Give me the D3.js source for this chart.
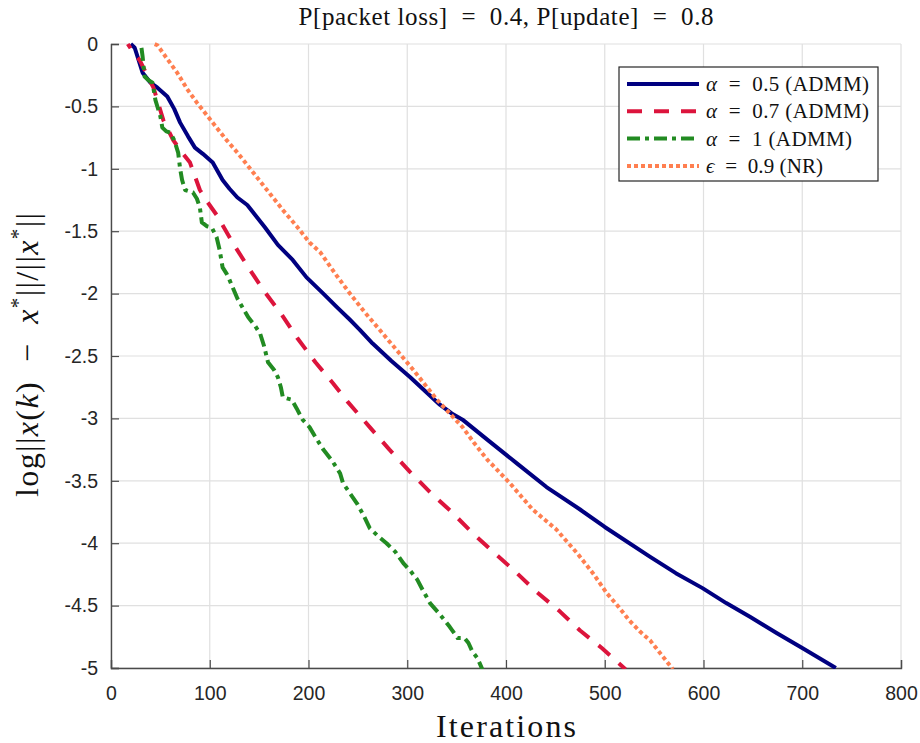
<!DOCTYPE html>
<html><head><meta charset="utf-8">
<script src="https://cdn.jsdelivr.net/npm/d3@7"></script>
<style>
html,body{margin:0;padding:0;background:#fff;}
svg{display:block;}
</style></head>
<body>
<div id="chart"></div>
<script>
// ---- data ----
const title = "P[packet loss] = 0.4, P[update] = 0.8";
const xLabel = "Iterations";
const xTicks = [0,100,200,300,400,500,600,700,800];
const yTicks = [0,-0.5,-1,-1.5,-2,-2.5,-3,-3.5,-4,-4.5,-5];
const yTickLabels = ["0","-0.5","-1","-1.5","-2","-2.5","-3","-3.5","-4","-4.5","-5"];

const seriesSymbols = ["α", "α", "α", "ϵ"];
const seriesNames = [" = 0.5 (ADMM)", " = 0.7 (ADMM)", " = 1 (ADMM)", " = 0.9 (NR)"];

const admm05 = [[20,0],[24,-0.03],[32,-0.23],[40,-0.31],[47,-0.35],[57,-0.42],[64,-0.52],[70,-0.63],[78,-0.74],[85,-0.83],[93,-0.88],[103,-0.95],[113,-1.09],[120,-1.16],[128,-1.23],[138,-1.29],[146,-1.37],[156,-1.47],[169,-1.61],[184,-1.73],[198,-1.87],[215,-2.0],[229,-2.11],[242,-2.21],[252,-2.29],[265,-2.40],[284,-2.54],[303,-2.67],[318,-2.78],[333,-2.89],[345,-2.96],[356,-3.01],[381,-3.17],[411,-3.36],[441,-3.55],[475,-3.73],[500,-3.87],[546,-4.11],[572,-4.24],[599,-4.36],[623,-4.48],[647,-4.59],[674,-4.72],[700,-4.84],[734,-5.0]];

const admm07 = [[17,0],[22,-0.06],[29,-0.13],[36,-0.24],[43,-0.35],[53,-0.61],[63,-0.77],[71,-0.86],[80,-0.95],[90,-1.17],[98,-1.27],[107,-1.37],[123,-1.59],[139,-1.79],[156,-1.99],[173,-2.17],[189,-2.36],[207,-2.55],[225,-2.72],[240,-2.87],[262,-3.07],[282,-3.25],[303,-3.43],[323,-3.59],[345,-3.75],[365,-3.91],[387,-4.07],[407,-4.21],[431,-4.39],[455,-4.55],[475,-4.70],[497,-4.84],[521,-5.01]];

const admm10 = [[30,0],[31,-0.04],[32,-0.10],[34,-0.26],[38,-0.29],[42,-0.31],[45,-0.45],[50,-0.58],[52,-0.67],[56,-0.70],[60,-0.71],[64,-0.77],[68,-0.87],[70,-1.0],[72,-1.09],[75,-1.17],[79,-1.18],[83,-1.19],[87,-1.24],[90,-1.31],[92,-1.43],[97,-1.46],[102,-1.47],[107,-1.55],[110,-1.65],[113,-1.79],[117,-1.84],[120,-1.89],[128,-2.04],[139,-2.19],[146,-2.26],[151,-2.32],[155,-2.42],[159,-2.55],[165,-2.61],[169,-2.67],[172,-2.75],[174,-2.83],[178,-2.84],[183,-2.85],[188,-2.92],[194,-3.01],[201,-3.07],[207,-3.15],[215,-3.25],[224,-3.34],[232,-3.44],[235,-3.52],[249,-3.68],[256,-3.78],[262,-3.88],[270,-3.94],[279,-4.0],[288,-4.07],[296,-4.16],[303,-4.22],[310,-4.29],[316,-4.38],[323,-4.48],[333,-4.57],[343,-4.67],[351,-4.76],[358,-4.76],[362,-4.80],[366,-4.87],[371,-4.92],[376,-5.01]];

const nr09 = [[44,0],[47,-0.01],[57,-0.12],[67,-0.23],[77,-0.36],[87,-0.47],[97,-0.57],[107,-0.67],[117,-0.77],[128,-0.87],[138,-0.97],[148,-1.07],[161,-1.20],[174,-1.33],[188,-1.46],[201,-1.59],[212,-1.67],[227,-1.84],[242,-2.0],[257,-2.15],[272,-2.29],[289,-2.45],[306,-2.61],[318,-2.73],[330,-2.85],[343,-2.96],[356,-3.07],[368,-3.20],[381,-3.33],[392,-3.42],[404,-3.52],[416,-3.63],[427,-3.73],[439,-3.81],[451,-3.89],[462,-3.99],[472,-4.08],[488,-4.24],[502,-4.40],[514,-4.51],[525,-4.62],[536,-4.71],[546,-4.78],[557,-4.89],[569,-5.01]];

const seriesData = [admm05, admm07, admm10, nr09];
const seriesColors = ["#000080", "#DC143C", "#228B22", "#FF7F50"];
const seriesDash = [null, "15,12", "13,5,4,5", "4,3"];

// ---- layout ----
const W = 920, H = 743;
const m = {left:111, right:19, top:44, bottom:75};
const iw = W - m.left - m.right, ih = H - m.top - m.bottom;

const svg = d3.select("#chart").append("svg").attr("width", W).attr("height", H);
const x = d3.scaleLinear().domain([0,800]).range([m.left, m.left+iw]);
const y = d3.scaleLinear().domain([-5,0]).range([m.top+ih, m.top]);

// grid
const g = svg.append("g");
g.selectAll("line.vg").data(xTicks).join("line")
  .attr("x1", d=>x(d)).attr("x2", d=>x(d)).attr("y1", m.top).attr("y2", m.top+ih)
  .attr("stroke", "#e0e0e0").attr("stroke-width", 1.2);
g.selectAll("line.hg").data(yTicks).join("line")
  .attr("y1", d=>y(d)).attr("y2", d=>y(d)).attr("x1", m.left).attr("x2", m.left+iw)
  .attr("stroke", "#e0e0e0").attr("stroke-width", 1.2);

// axes
const xAxis = d3.axisBottom(x).tickValues(xTicks).tickSize(-8).tickPadding(18).tickFormat(d3.format("d"));
const yAxis = d3.axisLeft(y).tickValues(yTicks).tickSize(-8).tickPadding(13).tickFormat((d,i)=>yTickLabels[i]);
const gx = svg.append("g").attr("transform", `translate(0,${m.top+ih})`).call(xAxis);
const gy = svg.append("g").attr("transform", `translate(${m.left},0)`).call(yAxis);
[gx,gy].forEach(a=>{
  a.select(".domain").attr("stroke","#4a4a4a").attr("stroke-width",1.4);
  a.selectAll(".tick line").attr("stroke","#4a4a4a").attr("stroke-width",1.2);
  a.selectAll(".tick text").attr("fill","#262626").style("font-family","'Liberation Sans', Arial, sans-serif").style("font-size","19.5px");
});

// clip + lines
svg.append("clipPath").attr("id","clip").append("rect")
  .attr("x", m.left).attr("y", m.top-3).attr("width", iw).attr("height", ih+4);
const line = d3.line().x(d=>x(d[0])).y(d=>y(d[1]));
const lg = svg.append("g").attr("clip-path","url(#clip)");
const dashPeriods = [0, 27, 27, 7];
const dashEndPos = [0, 9, 8, 2];
seriesData.forEach((s,i)=>{
  const p = lg.append("path").datum(s).attr("d", line)
    .attr("fill","none").attr("stroke", seriesColors[i]).attr("stroke-width", 4)
    .attr("stroke-dasharray", seriesDash[i]).attr("stroke-linejoin","round");
  if (dashPeriods[i]) {
    const L = p.node().getTotalLength();
    p.attr("stroke-dashoffset", dashEndPos[i] - (L % dashPeriods[i]));
  }
});

// title
const serif = "'Liberation Serif', 'Times New Roman', serif";
svg.append("text").attr("x", m.left+iw/2).attr("y", 25).attr("text-anchor","middle")
  .attr("font-family", serif).attr("font-size", 25).attr("fill","#111")
  .attr("textLength", 415).attr("lengthAdjust","spacing")
  .text(title.replace(/ = /g, "\u00A0\u00A0=\u00A0\u00A0"));

// x label
svg.append("text").attr("x", m.left+iw/2).attr("y", 737).attr("text-anchor","middle")
  .attr("font-family", serif).attr("font-size", 32).attr("fill","#111")
  .attr("textLength", 140).attr("lengthAdjust","spacing").text(xLabel);

// y label with math
const yl = svg.append("text").attr("transform", `translate(38,${m.top+ih/2 - 1}) rotate(-90)`)
  .attr("text-anchor","middle").attr("font-family", serif).attr("font-size", 32).attr("fill","#111")
  .attr("textLength", 284).attr("lengthAdjust","spacing");
const parts = [["log",""],["||",""],["x","i"],["(",""],["k","i"],[")\u00A0\u00A0−\u00A0\u00A0",""],["x","i"],["*","s"],["||/||","b"],["x","i"],["*","s"],["||","b"]];
parts.forEach(p=>{
  const t = yl.append("tspan").text(p[0]);
  if (p[1]==="i") t.attr("font-style","italic");
  if (p[1]==="s") t.attr("dy",-13).attr("font-size",21);
  if (p[1]==="b") t.attr("dy",13);
});

// legend
const lgx = 619, lgy = 67, lgw = 259, lgh = 114;
const leg = svg.append("g");
leg.append("rect").attr("x",lgx).attr("y",lgy).attr("width",lgw).attr("height",lgh)
  .attr("fill","#fff").attr("stroke","#262626").attr("stroke-width",1.2);
const legWidths = [163, 163, 146, 117];
seriesNames.forEach((n,i)=>{
  const cy = 84 + i*27.3;
  leg.append("line").attr("x1",627).attr("x2",699).attr("y1",cy).attr("y2",cy)
    .attr("stroke",seriesColors[i]).attr("stroke-width",4).attr("stroke-dasharray",seriesDash[i]);
  const t = leg.append("text").attr("x",706).attr("y",cy+7)
    .attr("font-family",serif).attr("font-size",21).attr("fill","#111")
    .attr("textLength", legWidths[i]).attr("lengthAdjust","spacing");
  t.append("tspan").attr("font-style","italic").text(seriesSymbols[i]);
  t.append("tspan").text(n.replace(" = ","\u00A0\u00A0=\u00A0\u00A0"));
});
</script>
</body></html>
